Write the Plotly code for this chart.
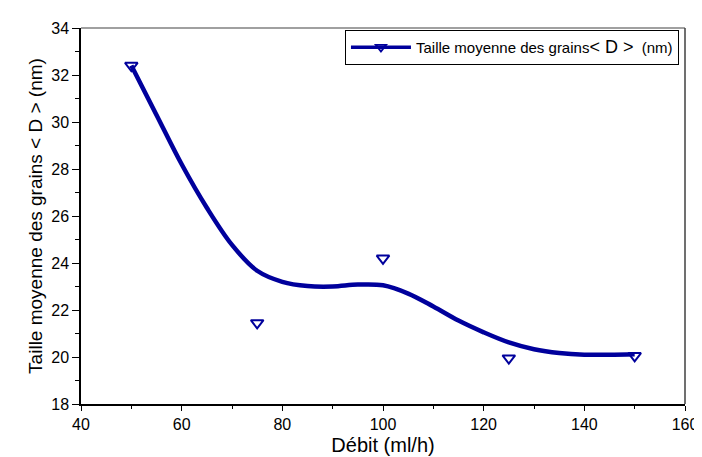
import plotly.graph_objects as go

# Measured data points
debit = [50, 75, 100, 125, 150]
taille = [32.4, 21.45, 24.2, 19.95, 20.05]

# Smoothed fit curve
fit_x = [50, 55, 60, 65, 70, 75, 80, 85, 90, 95, 100,
         105, 110, 115, 120, 125, 130, 135, 140, 145, 150]
fit_y = [32.4, 30.3, 28.2, 26.35, 24.77, 23.67, 23.2, 23.02, 23.0, 23.08, 23.05,
         22.7, 22.15, 21.55, 21.05, 20.62, 20.33, 20.17, 20.1, 20.1, 20.12]

x_ticks = [40, 60, 80, 100, 120, 140, 160]
y_ticks = [18, 20, 22, 24, 26, 28, 30, 32, 34]

color = "#00009C"
font = "Liberation Sans, Arial, sans-serif"

fig = go.Figure()
fig.add_trace(go.Scatter(x=fit_x, y=fit_y, mode="lines",
                         line=dict(color=color, width=4.5, shape="spline", smoothing=1.0),
                         showlegend=False, hoverinfo="skip"))
fig.add_trace(go.Scatter(x=debit, y=taille, mode="markers",
                         marker=dict(symbol="triangle-down-open", size=11, color=color,
                                     line=dict(width=2, color=color)),
                         showlegend=False))
fig.add_trace(go.Scatter(x=[None], y=[None], mode="lines+markers",
                         name='Taille moyenne des grains<span style="font-size:18px">&lt; D &gt;</span>  (nm)',
                         line=dict(color=color, width=3.5),
                         marker=dict(symbol="triangle-down-open", size=9, color=color,
                                     line=dict(width=1.8, color=color))))

fig.update_layout(
    width=702, height=457,
    margin=dict(l=73, r=15, t=19, b=57),
    paper_bgcolor="white", plot_bgcolor="white",
    font=dict(family=font, color="black", size=16),
    legend=dict(x=0.99, y=0.995, xanchor="right", yanchor="top",
                bordercolor="black", borderwidth=1, bgcolor="white",
                font=dict(size=15, family=font), itemwidth=60,
                tracegroupgap=0),
    xaxis=dict(range=[40, 160], tickvals=x_ticks, ticks="outside", ticklen=5,
               tickwidth=1, tickcolor="black", showline=True, linecolor="black",
               linewidth=1.5, showgrid=False, zeroline=False,
               minor=dict(dtick=10, ticks="outside", ticklen=3, tickcolor="black"),
               title=dict(text="Débit (ml/h)", font=dict(size=20), standoff=6),
               tickfont=dict(size=16)),
    yaxis=dict(range=[18, 34], tickvals=y_ticks, ticks="outside", ticklen=7,
               tickwidth=1, tickcolor="black", showline=True, linecolor="black",
               linewidth=1.5, showgrid=False, zeroline=False,
               minor=dict(dtick=1, ticks="outside", ticklen=4, tickcolor="black"),
               title=dict(text="Taille moyenne des grains < D > (nm)", font=dict(size=19), standoff=4),
               tickfont=dict(size=16)),
    shapes=[
        dict(type="line", xref="paper", yref="paper", x0=0, x1=1, y0=1, y1=1,
             line=dict(color="#808080", width=1.5)),
        dict(type="line", xref="paper", yref="paper", x0=1, x1=1, y0=0, y1=1,
             line=dict(color="#404040", width=1.5)),
    ],
)

fig.write_html("out.html")
